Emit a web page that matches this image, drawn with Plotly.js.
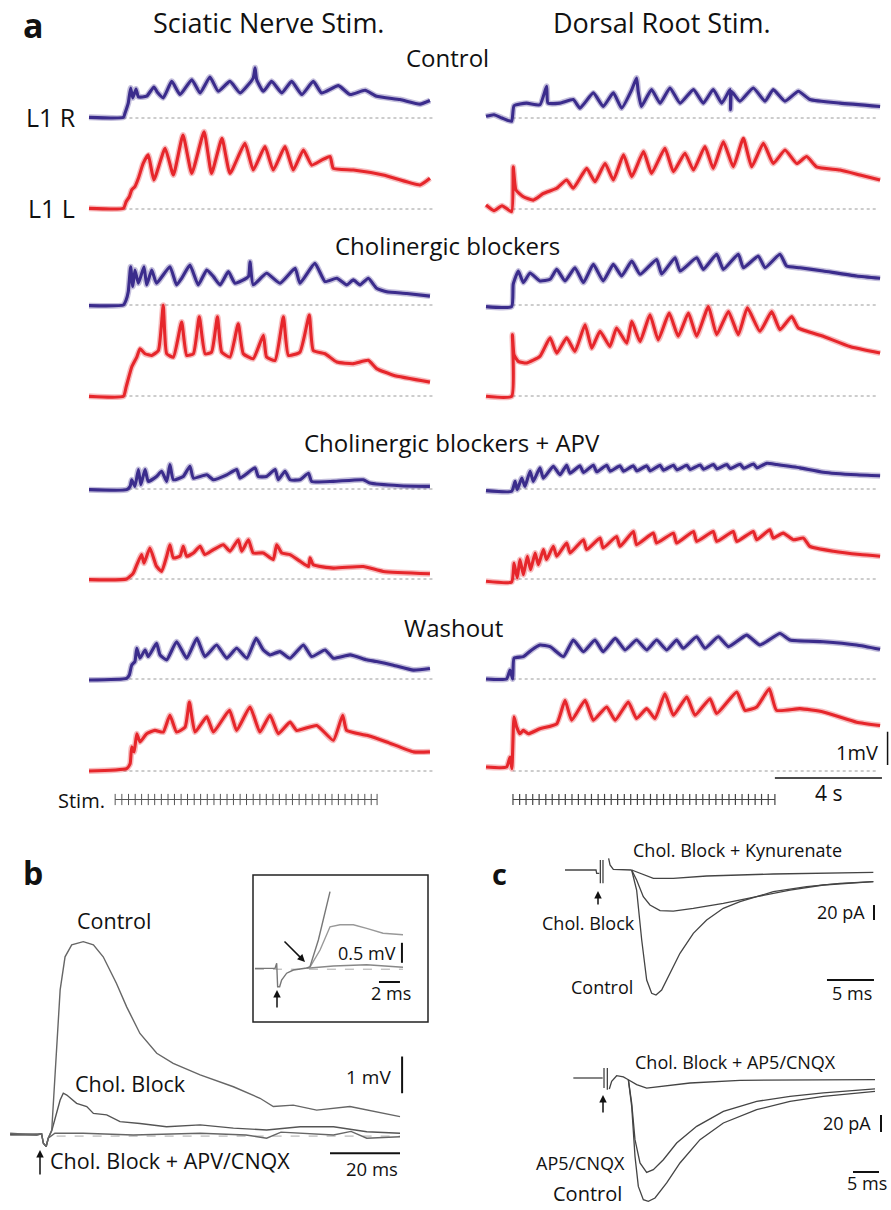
<!DOCTYPE html>
<html><head><meta charset="utf-8">
<script src="https://cdn.plot.ly/plotly-3.0.1.min.js"></script>
<style>html,body{margin:0;padding:0;background:#fff}#g{width:891px;height:1210px}</style>
</head><body><div id="g"></div>
<script>
// ---------- Panel a data (time in s, voltage in mV above baseline) ----------
const sciCtrlR_t=[0,1.29,1.35,1.47,1.56,1.64,1.76,1.85,2.16,2.43,2.56,2.78,3.10,3.41,3.85,4.16,4.53,4.84,5.28,5.66,6.15,6.22,6.28,6.53,6.84,7.22,7.59,7.97,8.40,8.71,9.34,9.78,10.34,10.77,11.65,12.40,12.77];
const sciCtrlR_v=[0.02,0.02,0.15,0.45,0.91,0.61,0.88,0.64,0.66,0.94,0.78,0.61,1.11,0.71,1.16,0.76,1.24,0.81,1.11,0.76,1.21,1.52,1.16,0.81,1.11,0.76,1.11,0.71,1.11,0.76,0.98,0.71,0.84,0.66,0.56,0.42,0.53];
const sciCtrlL_t=[0,1.29,1.39,1.51,1.60,1.72,1.85,2.03,2.22,2.43,2.85,3.16,3.52,3.85,4.31,4.59,4.98,5.28,5.84,6.15,6.59,6.90,7.34,7.65,8.03,8.34,8.71,9.03,9.15,9.90,11.02,12.40,12.77];
const sciCtrlL_v=[0.02,0.02,0.22,0.37,0.58,0.68,0.93,1.38,1.64,0.88,1.84,1.03,2.24,1.08,2.34,1.08,2.14,1.08,1.99,1.18,1.89,1.18,1.89,1.18,1.79,1.33,1.48,1.59,1.23,1.18,1.03,0.73,0.93];
const drCtrlR_t=[0,0.30,0.60,0.96,1.05,1.52,2.02,2.27,2.32,2.77,3.27,3.52,4.02,4.39,4.77,5.08,5.46,5.64,5.70,5.82,6.20,6.52,6.89,7.27,7.77,8.14,8.51,8.83,9.14,9.16,9.20,9.51,10.01,10.45,10.76,11.20,11.70,12.13,13.26,14.76];
const drCtrlR_v=[0.05,0.10,0.00,-0.10,0.37,0.45,0.40,0.96,0.45,0.45,0.56,0.30,0.76,0.35,0.76,0.30,0.86,1.21,0.80,0.35,0.86,0.45,0.91,0.45,0.86,0.45,0.86,0.45,0.86,0.25,0.80,0.51,0.91,0.51,0.86,0.51,0.81,0.56,0.45,0.35];
const drCtrlL_t=[0,0.30,0.60,0.96,1.02,1.12,1.40,1.77,2.15,2.65,3.02,3.27,3.77,4.08,4.46,4.77,5.15,5.46,5.90,6.20,6.70,7.02,7.45,7.77,8.20,8.51,8.89,9.26,9.64,9.95,10.39,10.76,11.20,11.64,12.01,12.38,13.26,14.01,14.76];
const drCtrlL_v=[0.12,-0.05,0.10,-0.08,1.28,0.58,0.37,0.27,0.47,0.63,0.88,0.63,1.23,0.83,1.38,0.88,1.64,0.98,1.74,1.08,1.84,1.13,1.69,1.18,1.89,1.23,2.04,1.28,2.14,1.28,1.99,1.38,1.79,1.38,1.59,1.28,1.18,1.03,0.88];

const sciChR_t=[0,1.29,1.39,1.47,1.56,1.64,1.72,1.85,2.06,2.16,2.35,2.53,3.03,3.28,3.47,3.78,4.09,4.41,4.66,4.91,5.22,5.47,5.97,6.03,6.15,6.65,7.15,7.72,7.90,8.46,8.84,9.28,9.65,9.90,10.15,10.46,10.77,11.15,11.90,12.77];
const sciChR_v=[-0.02,0,0.15,0.40,1.16,0.56,1.06,0.66,1.16,0.61,1.06,0.66,1.16,0.61,0.81,1.21,0.61,1.06,0.86,0.61,1.01,0.66,0.86,1.31,0.61,0.96,0.66,1.11,0.66,1.26,0.71,0.81,0.61,0.76,0.61,0.81,0.51,0.40,0.35,0.27];
const sciChL_t=[0,1.29,1.39,1.60,1.79,1.91,2.10,2.35,2.60,2.78,2.91,3.16,3.47,3.66,3.91,4.13,4.35,4.59,4.81,4.97,5.28,5.59,5.78,6.15,6.53,6.65,6.97,7.28,7.47,7.90,8.25,8.40,8.84,9.28,9.90,10.46,10.77,11.40,12.77];
const sciChL_v=[-0.01,-0.01,0.27,0.88,1.18,1.43,1.28,1.23,1.38,2.75,1.28,1.18,2.24,1.23,1.28,2.40,1.28,1.33,2.40,1.33,1.18,2.19,1.28,1.13,1.84,1.18,1.08,2.40,1.23,1.33,2.45,1.38,1.28,1.03,0.98,1.08,0.83,0.63,0.42];
const drChR_t=[0,0.96,1.02,1.21,1.40,1.65,2.02,2.40,2.65,2.96,3.33,3.65,4.02,4.39,4.77,5.08,5.46,5.77,6.39,6.58,7.08,7.27,7.89,8.14,8.64,8.89,9.45,9.64,10.20,10.45,11.01,11.26,11.76,12.63,13.88,14.76];
const drChR_v=[-0.05,-0.05,0.63,1.03,0.68,0.97,0.73,0.78,1.08,0.73,1.13,0.68,1.23,0.73,1.23,0.88,1.33,0.93,1.38,0.94,1.43,1.03,1.43,1.08,1.54,1.08,1.54,1.13,1.48,1.13,1.54,1.18,1.13,1.03,0.88,0.81];
const drChL_t=[0,0.96,0.99,1.05,1.21,1.52,2.02,2.40,2.65,3.02,3.33,3.71,3.96,4.27,4.64,4.89,5.27,5.46,5.77,6.14,6.45,6.86,7.20,7.58,7.89,8.33,8.64,9.08,9.45,9.79,10.26,10.70,11.01,11.45,11.70,12.63,13.63,14.76];
const drChL_v=[-0.01,-0.01,1.86,1.25,1.05,1.00,1.20,1.76,1.30,1.76,1.35,2.16,1.45,1.96,1.50,2.06,1.60,2.26,1.65,2.46,1.70,2.51,1.81,2.51,1.81,2.71,1.86,2.56,1.86,2.67,1.96,2.56,2.01,2.41,2.06,1.81,1.50,1.30];

const sciApR_t=[0,1.41,1.54,1.60,1.72,1.85,1.94,2.10,2.22,2.53,2.72,2.91,3.03,3.16,3.53,3.78,3.91,4.41,4.66,5.16,5.53,5.66,6.22,6.34,6.65,6.97,7.09,7.34,7.53,7.90,8.22,8.34,9.15,10.27,10.52,11.65,12.77];
const sciApR_v=[-0.02,-0.02,0.08,0.28,0.08,0.59,0.13,0.59,0.23,0.38,0.54,0.23,0.74,0.28,0.38,0.69,0.33,0.43,0.28,0.43,0.59,0.33,0.64,0.38,0.38,0.59,0.28,0.54,0.28,0.28,0.48,0.23,0.23,0.28,0.18,0.10,0.08];
const sciApL_t=[0,1.41,1.66,1.79,1.97,2.06,2.28,2.53,2.72,2.91,3.03,3.16,3.41,3.53,3.66,3.91,4.16,4.34,4.66,5.03,5.28,5.59,5.72,5.97,6.15,6.53,6.90,7.03,7.22,7.53,7.90,8.22,8.28,8.40,9.15,10.27,11.02,12.77];
const sciApL_v=[-0.02,0,0.18,0.43,0.74,0.48,0.94,0.38,0.23,0.69,1.04,0.64,0.69,0.99,0.69,0.79,0.99,0.74,0.89,1.04,0.84,1.19,0.84,1.19,0.79,0.79,0.59,1.04,0.79,0.74,0.54,0.38,0.64,0.43,0.33,0.38,0.23,0.16];
const drApR_t=[0,0.96,1.09,1.17,1.34,1.46,1.65,1.77,2.02,2.15,2.52,2.77,3.02,3.15,3.52,3.65,4.02,4.15,4.52,4.65,5.02,5.15,5.52,5.65,6.02,6.15,6.52,6.65,7.02,7.15,7.52,7.65,8.02,8.15,8.52,8.65,9.02,9.15,9.52,9.65,10.02,10.15,10.52,10.89,11.76,12.63,13.88,14.76];
const drApR_v=[-0.05,-0.07,0.23,-0.02,0.33,0.08,0.54,0.23,0.64,0.33,0.69,0.43,0.72,0.48,0.70,0.50,0.72,0.52,0.72,0.54,0.70,0.54,0.70,0.55,0.70,0.55,0.72,0.57,0.72,0.58,0.72,0.59,0.73,0.60,0.74,0.61,0.74,0.62,0.75,0.63,0.76,0.64,0.78,0.74,0.64,0.51,0.43,0.40];
const drApL_t=[0,0.96,1.05,1.17,1.27,1.40,1.55,1.67,1.84,1.96,2.15,2.27,2.52,2.65,3.02,3.15,3.65,3.77,4.27,4.39,4.89,5.02,5.52,5.64,6.27,6.39,7.02,7.14,7.77,7.89,8.51,8.64,9.26,9.39,10.01,10.14,10.63,10.76,11.13,11.51,11.89,12.13,13.01,14.01,14.76];
const drApL_v=[-0.07,-0.09,0.48,0.03,0.59,0.13,0.69,0.28,0.79,0.43,0.89,0.59,0.99,0.69,1.09,0.79,1.19,0.89,1.24,0.94,1.29,0.99,1.44,1.04,1.39,1.09,1.39,1.09,1.44,1.14,1.44,1.14,1.44,1.14,1.44,1.19,1.49,1.24,1.39,1.19,1.24,0.99,0.84,0.74,0.69];

const sciWaR_t=[0,1.41,1.51,1.60,1.72,1.79,1.91,2.10,2.22,2.53,2.66,2.91,3.28,3.66,4.04,4.34,4.78,5.16,5.53,5.91,6.26,6.53,6.78,7.15,7.53,8.03,8.34,8.84,9.15,9.78,10.40,10.77,11.40,12.15,12.77];
const sciWaR_v=[-0.03,0.02,0.12,0.42,0.53,0.93,0.63,0.88,0.68,1.08,0.73,0.58,1.13,0.63,1.23,0.68,1.03,0.63,0.93,0.63,1.23,0.88,0.73,0.83,0.63,1.03,0.68,0.88,0.63,0.73,0.58,0.53,0.42,0.27,0.32];
const sciWaL_t=[0,1.41,1.54,1.60,1.69,1.79,1.91,2.16,2.47,2.78,3.03,3.28,3.60,3.76,3.97,4.41,4.66,5.26,5.53,6.03,6.40,6.78,7.09,7.53,7.78,8.53,9.15,9.50,9.65,10.40,11.15,12.15,12.77];
const sciWaL_v=[0,0.07,0.22,0.73,0.58,1.13,0.88,1.13,1.23,1.18,1.69,1.18,1.33,2.09,1.18,1.64,1.18,1.84,1.23,1.94,1.18,1.69,1.13,1.48,1.23,1.38,0.93,1.69,1.23,1.08,0.88,0.58,0.58];
const drWaR_t=[0,0.77,0.90,1.00,1.05,1.40,1.71,2.02,2.40,2.90,3.27,3.65,4.08,4.39,4.84,5.21,5.64,6.02,6.39,6.77,7.14,7.39,7.89,8.20,8.70,9.08,9.76,10.26,11.01,11.39,12.63,13.88,14.76];
const drWaR_v=[0,0,0.27,0,0.63,0.68,0.88,1.03,0.98,0.68,1.18,0.83,1.18,0.83,1.23,0.88,1.18,0.88,1.18,0.88,1.18,0.93,1.28,0.93,1.28,0.98,1.33,1.03,1.38,1.18,1.13,1.03,0.90];
const drWaL_t=[0,0.77,0.90,0.97,1.05,1.15,1.27,1.40,1.59,2.02,2.65,2.96,3.21,3.71,4.02,4.52,4.84,5.33,5.64,6.02,6.33,6.70,7.02,7.52,7.83,8.39,8.64,9.39,9.70,10.14,10.61,10.88,11.76,12.63,13.88,14.76];
const drWaL_v=[0.12,0.12,0.42,0.07,1.64,1.33,1.13,1.23,1.13,1.28,1.43,2.14,1.54,2.14,1.54,1.94,1.54,2.09,1.59,1.89,1.59,2.34,1.69,2.24,1.69,2.19,1.74,2.39,1.84,1.94,2.49,1.84,1.89,1.79,1.48,1.38];

// baselines (dotted) and stimulus trains
const baseSci_t=[1.29,12.90];
const baseDr_t=[1.00,14.70];
const stimSci_t=[0.98,1.23,1.48,1.73,1.97,2.22,2.46,2.71,2.96,3.20,3.45,3.69,3.94,4.18,4.43,4.68,4.92,5.17,5.41,5.66,5.90,6.15,6.40,6.64,6.89,7.13,7.38,7.62,7.87,8.12,8.36,8.61,8.85,9.10,9.34,9.59,9.84,10.08,10.33,10.57,10.79];
const stimDr_t=[1.01,1.26,1.50,1.75,1.99,2.24,2.48,2.73,2.97,3.22,3.46,3.71,3.95,4.20,4.44,4.69,4.93,5.18,5.42,5.67,5.91,6.16,6.40,6.65,6.89,7.14,7.38,7.63,7.87,8.12,8.36,8.61,8.85,9.10,9.34,9.59,9.83,10.08,10.32,10.57,10.82];

// ---------- Panel b data (ms, mV) ----------
const bCtrl_t=[-9.4,-1.8,-0.4,0.1,0.9,1.5,2.5,3.4,4.9,6.3,8.2,11.5,14.4,17.2,21.0,23.9,27.7,32.5,37.2,44.9,54.4,62.0,65.8,71.5,78.2,87.7,94.4,102];
const bCtrl_v=[0.05,0,0.03,-0.23,-0.32,-0.09,0.14,1.71,4.03,4.95,5.28,5.37,5.28,4.95,4.21,3.56,2.82,2.27,1.99,1.67,1.34,1.02,0.79,0.83,0.69,0.79,0.65,0.51];
const bChol_t=[-9.4,-1.8,-0.4,0.1,0.9,1.5,2.5,4.9,5.8,6.8,9.6,12.5,14.4,18.2,22.0,27.7,35.3,44.9,54.4,63.9,73.5,83.0,92.5,102];
const bChol_v=[0.02,0.02,0.03,-0.23,-0.32,-0.09,0.12,0.97,1.16,1.11,0.88,0.79,0.60,0.56,0.37,0.32,0.23,0.28,0.19,0.14,0.23,0.23,0.09,0.05];
const bApv_t=[-9.4,-1.8,-0.4,0.1,0.9,1.5,3.4,11.5,25.8,44.9,58.0,63.9,68.0,73.5,83.0,88.0,92.5,102];
const bApv_v=[0.0,0.0,0.03,-0.23,-0.32,-0.09,0.05,0.05,0,0.05,0.0,-0.09,0.08,0.05,0,0.10,-0.09,-0.05];
const bBase_t=[3.9,102];
// inset (ms, mV)
const iCtrl_t=[-2.1,-0.19,-0.03,0.06,0.25,0.44,0.92,1.56,2.83,3.14,3.94,5.05];
const iCtrl_v=[-0.01,-0.01,0.12,-0.47,-0.47,-0.30,-0.13,-0.05,0,0.03,0.70,1.91];
const iChol_t=[2.83,3.14,4.1,5.05,6.0,7.27,8.54,10.1,12.0];
const iChol_v=[0,0.02,0.45,1.03,1.08,1.08,0.99,0.87,0.83];
const iApv_t=[2.83,3.14,5.37,8.54,12.0];
const iApv_v=[0,0,0.05,0.08,0.02];
const iBase_t=[-2.1,12.0];

// ---------- Panel c data (ms, pA) ----------
const cArt1_t=[-3.51,-0.21,-0.14,0.14,null,0.25,0.25,null,0.53,0.53,null,1.13,1.28,1.63,3.05,3.58];
const cArt1_i=[0,0,-4.4,-4.4,null,13.3,-17.8,null,13.3,-17.8,null,15.6,6.7,0.9,0,0];
const cCtrl1_t=[3.58,4.11,4.65,5.18,5.71,6.17,6.77,7.66,8.72,10.14,11.56,13.33,15.11,16.88,18.65,22.2,25.74,29.29];
const cCtrl1_i=[0,-26.7,-93.3,-146.7,-164.4,-166.7,-160,-137.8,-111.1,-84.4,-66.7,-51.1,-42.2,-35.6,-28.9,-22.2,-17.8,-15.6];
const cChol1_t=[3.58,4.11,4.82,5.53,6.60,8.01,10.14,13.33,16.88,20.43,23.97,29.29];
const cChol1_i=[0,-13.3,-35.6,-46.7,-54.2,-54.7,-51.1,-44.4,-35.6,-26.7,-20,-15.6];
const cKyn_t=[3.58,4.47,5.89,8.01,11.56,18.65,29.29];
const cKyn_i=[0,-4.4,-11.1,-11.1,-8,-5.3,-3.1];

const cArt2_t=[-6.09,-0.45,null,-0.19,-0.19,null,0.45,0.45,null,0.83,1.28,2.24,3.53,4.49];
const cArt2_i=[0,0,null,11.8,-11.8,null,11.8,-13.7,null,-12.9,-3.9,2.7,1.2,-2.0];
const cCtrl2_t=[4.49,5.13,5.77,6.41,7.37,8.33,9.62,11.86,14.42,18.27,22.76,29.17,35.58,41.99,51.92];
const cCtrl2_i=[-2,-33.3,-92.2,-127.5,-143.1,-145.1,-141.2,-123.5,-100,-72.5,-52.9,-37.3,-27.5,-21.6,-15.7];
const cAp5_t=[4.49,5.13,5.77,6.73,8.01,9.29,11.22,13.78,17.63,22.76,29.17,35.58,41.99,51.92];
const cAp5_i=[-2,-29.4,-72.5,-100,-111,-107.8,-96.1,-76.5,-56.9,-39.2,-27.5,-21.6,-17.6,-12.9];
const cBlk2_t=[4.49,6.09,8.01,10.58,16.35,25.96,51.92];
const cBlk2_i=[-2,-7.8,-11.8,-9.8,-5.9,-2.7,-2.0];

// ---------- layout helpers (pixel geometry) ----------
const W=891,H=1210;
const px=x=>x/W, py=y=>1-y/H;
const BLUE='#3b2c8c', RED='#e6262b';
const FONT="'Open Sans', sans-serif";
const traces=[];
function add(x,y,xa,ya,color,width,extra){traces.push(Object.assign({type:'scatter',mode:'lines',x:x,y:y,xaxis:xa,yaxis:ya,line:{color:color,width:width},hoverinfo:'skip',connectgaps:false},extra||{}));}
function addEphys(x,y,xa,ya,color){
  add(x,y,xa,ya,color,6,{opacity:0.3,line:{color:color,width:6,shape:'spline',smoothing:0.45}});
  add(x,y,xa,ya,color,3.1,{line:{color:color,width:3.1,shape:'spline',smoothing:0.45}});
}

// Panel a rows: [xaxis, yaxis, t, v, colour]
const aSets=[
 ['x','y',sciCtrlR_t,sciCtrlR_v,BLUE],['x2','y',drCtrlR_t,drCtrlR_v,BLUE],
 ['x','y2',sciCtrlL_t,sciCtrlL_v,RED],['x2','y2',drCtrlL_t,drCtrlL_v,RED],
 ['x','y3',sciChR_t,sciChR_v,BLUE],['x2','y3',drChR_t,drChR_v,BLUE],
 ['x','y4',sciChL_t,sciChL_v,RED],['x2','y4',drChL_t,drChL_v,RED],
 ['x','y5',sciApR_t,sciApR_v,BLUE],['x2','y5',drApR_t,drApR_v,BLUE],
 ['x','y6',sciApL_t,sciApL_v,RED],['x2','y6',drApL_t,drApL_v,RED],
 ['x','y7',sciWaR_t,sciWaR_v,BLUE],['x2','y7',drWaR_t,drWaR_v,BLUE],
 ['x','y8',sciWaL_t,sciWaL_v,RED],['x2','y8',drWaL_t,drWaL_v,RED]
];
const rowYA=['y','y2','y3','y4','y5','y6','y7','y8'];
rowYA.forEach(ya=>{
  add(baseSci_t,[0,0],'x',ya,'#9a9a9a',1,{line:{color:'#9a9a9a',width:1,dash:'dot'}});
  add(baseDr_t,[0,0],'x2',ya,'#9a9a9a',1,{line:{color:'#9a9a9a',width:1,dash:'dot'}});
});
aSets.forEach(s=>addEphys(s[2],s[3],s[0],s[1],s[4]));

// stim trains
add(stimSci_t,stimSci_t.map(()=>0),'x','y9','#555',1,{mode:'lines+markers',marker:{symbol:'line-ns-open',size:8,color:'#555',line:{width:1,color:'#555'}}});
add(stimDr_t,stimDr_t.map(()=>0),'x2','y9','#444',1.2,{mode:'lines+markers',marker:{symbol:'line-ns-open',size:8,color:'#444',line:{width:1.2,color:'#444'}}});
// scale bars panel a
add([15.04,15.04],[0.18,1.19],'x2','y8','#111',1.5);
add([10.82,14.83],[-0.21,-0.21],'x2','y8','#111',1.5);

// Panel b
add(bBase_t,[-0.03,-0.03],'x3','y10','#aaa',1,{line:{color:'#aaa',width:1,dash:'dash'}});
add(bApv_t,bApv_v,'x3','y10','#666',1.4);
add(bChol_t,bChol_v,'x3','y10','#555',1.4);
add(bCtrl_t,bCtrl_v,'x3','y10','#666',1.4);
add([102.6,102.6],[1.16,2.18],'x3','y10','#111',2);
add([82,102],[-0.51,-0.51],'x3','y10','#111',2);
// inset
add(iBase_t,[-0.03,-0.03],'x4','y11','#aaa',1,{line:{color:'#aaa',width:1,dash:'dash'}});
add(iApv_t,iApv_v,'x4','y11','#888',1.6);
add(iChol_t,iChol_v,'x4','y11','#999',1.4);
add(iCtrl_t,iCtrl_v,'x4','y11','#777',1.4);
add([11.9,11.9],[0.13,0.63],'x4','y11','#111',2);
add([9.71,11.71],[-0.35,-0.35],'x4','y11','#111',2);

// Panel c top
add(cArt1_t,cArt1_i,'x5','y12','#444',1.3);
add(cKyn_t,cKyn_i,'x5','y12','#444',1.3);
add(cChol1_t,cChol1_i,'x5','y12','#444',1.3);
add(cCtrl1_t,cCtrl1_i,'x5','y12','#444',1.3);
add([29.36,29.36],[-46.7,-66.7],'x5','y12','#111',2);
add([24.36,29.36],[-146.7,-146.7],'x5','y12','#111',2);
// Panel c bottom
add(cArt2_t,cArt2_i,'x6','y13','#444',1.3);
add(cBlk2_t,cBlk2_i,'x6','y13','#444',1.3);
add(cAp5_t,cAp5_i,'x6','y13','#444',1.3);
add(cCtrl2_t,cCtrl2_i,'x6','y13','#444',1.3);
add([53.08,53.08],[-43.5,-63.5],'x6','y13','#111',2);
add([47.69,52.69],[-110.6,-110.6],'x6','y13','#111',2);

// ---------- axes ----------
const hid={visible:false,fixedrange:true};
const layout={width:W,height:H,margin:{l:0,r:0,t:0,b:0},paper_bgcolor:'#fff',plot_bgcolor:'rgba(0,0,0,0)',showlegend:false,
 font:{family:FONT,color:'#111'}};
// panel a x axes: 26.7 px per s
layout.xaxis=Object.assign({},hid,{domain:[px(80),px(440)],range:[(80-89)/26.7,(440-89)/26.7]});
layout.xaxis2=Object.assign({},hid,{domain:[px(478),1],range:[(478-486)/26.7,(891-486)/26.7]});
const rowBase=[118,209,305,396,489,579,679,771];
rowBase.forEach((yb,i)=>{
  const key=i===0?'yaxis':'yaxis'+(i+1);
  const top=yb-3.0*33, bot=yb+0.6*33;
  layout[key]=Object.assign({},hid,{domain:[py(bot),py(top)],range:[-0.6,3.0]});
});
layout.yaxis9=Object.assign({},hid,{domain:[py(810),py(789)],range:[-1,1]});
// panel b main: 3.5 px/ms, 36 px/mV, stim at x=43, baseline y=1135
layout.xaxis3=Object.assign({},hid,{domain:[px(8),px(404)],range:[(8-43)/3.5,(404-43)/3.5]});
layout.yaxis10=Object.assign({},hid,{domain:[py(1160),py(930)],range:[(1135-1160)/36,(1135-930)/36]});
// inset: 10.5 px/ms, 40 px/mV, stim x=277, baseline 968
layout.xaxis4=Object.assign({},hid,{domain:[px(253),px(428)],range:[(253-277)/10.5,(428-277)/10.5]});
layout.yaxis11=Object.assign({},hid,{domain:[py(1022),py(875)],range:[(968-1022)/40,(968-875)/40]});
// panel c top: 9.4 px/ms, 0.75 px/pA, stim x=598, baseline 870
layout.xaxis5=Object.assign({},hid,{domain:[px(560),px(880)],range:[(560-598)/9.4,(880-598)/9.4]});
layout.yaxis12=Object.assign({},hid,{domain:[py(1000),py(845)],range:[(870-1000)/0.75,(870-845)/0.75]});
// panel c bottom: 5.2 px/ms, 0.85 px/pA, stim x=605, baseline 1078
layout.xaxis6=Object.assign({},hid,{domain:[px(565),px(885)],range:[(565-605)/5.2,(885-605)/5.2]});
layout.yaxis13=Object.assign({},hid,{domain:[py(1208),py(1050)],range:[(1078-1208)/0.85,(1078-1050)/0.85]});

layout.shapes=[{type:'rect',xref:'paper',yref:'paper',x0:px(253),x1:px(428),y0:py(1022),y1:py(875),line:{color:'#222',width:1.5},fillcolor:'rgba(0,0,0,0)'}];

function T(text,x,y,size,opt){return Object.assign({text:text,xref:'paper',yref:'paper',x:px(x),y:py(y),showarrow:false,xanchor:'center',yanchor:'middle',font:{family:FONT,size:size,color:'#111'}},opt||{});}
function ARROW(x,y0,y1){return {xref:'paper',yref:'paper',x:px(x),y:py(y1),ax:px(x),ay:py(y0),axref:'paper',ayref:'paper',text:'',showarrow:true,arrowhead:2,arrowsize:1,arrowwidth:1.5,arrowcolor:'#111'};}
layout.annotations=[
 T('<b>a</b>',33,0,34,{yanchor:'top'}),
 T('Sciatic Nerve Stim.',268,22,27),
 T('Dorsal Root Stim.',662,22,27),
 T('Control',447,57,24),
 T('L1 R',51,117,25),
 T('L1 L',51,208,25),
 T('Cholinergic blockers',447,245,24),
 T('Cholinergic blockers + APV',452,442,24),
 T('Washout',453,627,24),
 T('Stim.',81,800,20),
 T('1mV',880,752,20,{xanchor:'right'}),
 T('4 s',828,793,21),
 T('<b>b</b>',33,872,32),
 T('Control',114,920,21.5),
 T('Chol. Block',130,1083,21.5),
 T('Chol. Block + APV/CNQX',170,1160,21.5),
 T('1 mV',393,1077,19,{xanchor:'right'}),
 T('20 ms',372,1168,18.5),
 T('0.5 mV',398,953,18,{xanchor:'right'}),
 T('2 ms',391,993,18),
 T('<b>c</b>',499,873,29),
 T('Chol. Block + Kynurenate',737,850,18),
 T('Chol. Block',588,923,18),
 T('Control',602,987,18),
 T('20 pA',867,912,18,{xanchor:'right'}),
 T('5 ms',852,993,18),
 T('Chol. Block + AP5/CNQX',735,1062,18),
 T('AP5/CNQX',580,1163,18),
 T('Control',587,1209,20,{yanchor:'bottom'}),
 T('20 pA',873,1123,18,{xanchor:'right'}),
 T('5 ms',867,1183,18),
 ARROW(40,1176,1150),
 ARROW(277,1009,990),
 ARROW(598,906,891),
 ARROW(603,1114,1095),
 {xref:'paper',yref:'paper',x:px(305),y:py(962),ax:px(283),ay:py(940),axref:'paper',ayref:'paper',text:'',showarrow:true,arrowhead:2,arrowsize:1,arrowwidth:1.5,arrowcolor:'#111'}
];
Plotly.newPlot('g',traces,layout,{staticPlot:true,displayModeBar:false});
</script></body></html>
